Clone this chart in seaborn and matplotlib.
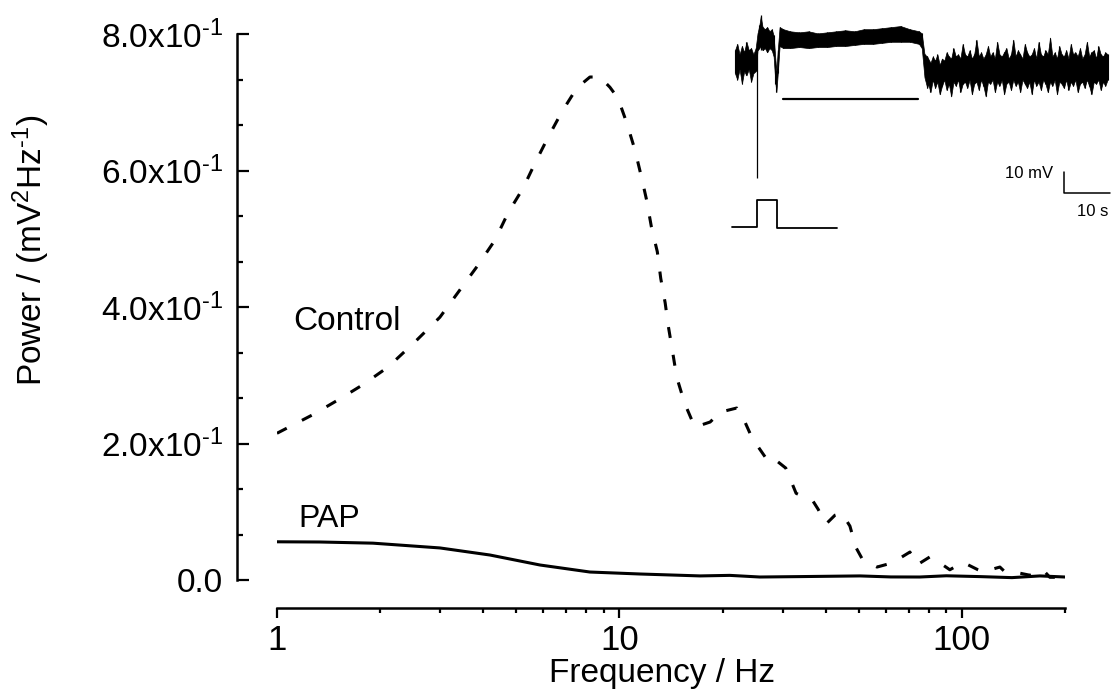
import numpy as np
import pandas as pd
import seaborn as sns
import matplotlib.pyplot as plt
from matplotlib import ticker

# Power spectra (frequency in Hz, power in mV^2/Hz)
control_freq = [1.0, 1.27, 1.51, 1.78, 2.11, 2.53, 2.99, 3.42, 3.86, 4.33, 4.73, 5.23,
                5.67, 6.18, 6.79, 7.51, 8.2, 8.77, 9.38, 9.9, 10.5, 11.1, 11.6, 12.0,
                12.4, 12.9, 13.2, 13.6, 13.9, 14.3, 14.7, 15.5, 16.6, 18.4, 19.7, 22.0,
                22.9, 24.4, 27.0, 27.9, 30.6, 32.8, 36.7, 38.0, 40.1, 42.6, 44.6, 47.1,
                49.0, 51.4, 56.5, 62.5, 65.9, 70.5, 73.9, 80.7, 86.3, 92.2, 100.7, 111.4,
                115.2, 129.1, 133.5, 147.7, 158.0, 172.4, 180.6, 200.0]
control_power = [0.215, 0.242, 0.264, 0.286, 0.312, 0.349, 0.385, 0.425, 0.461, 0.498, 0.538, 0.574,
                 0.611, 0.648, 0.686, 0.721, 0.737, 0.737, 0.722, 0.706, 0.670, 0.630, 0.590, 0.557,
                 0.517, 0.481, 0.442, 0.406, 0.371, 0.334, 0.297, 0.259, 0.224, 0.2315, 0.246, 0.252,
                 0.239, 0.208, 0.176, 0.180, 0.164, 0.127, 0.116, 0.104, 0.082, 0.095, 0.098, 0.079,
                 0.048, 0.029, 0.019, 0.025, 0.032, 0.041, 0.022, 0.034, 0.025, 0.015, 0.026, 0.015,
                 0.012, 0.019, 0.012, 0.010, 0.007, 0.015, 0.004, 0.004]

pap_freq = [1.0, 1.335, 1.906, 2.99, 4.19, 5.86, 8.2, 11.5, 17.2, 21.0, 25.7, 33.6,
            50.4, 62.0, 75.3, 90.0, 112.8, 140.0, 169.0, 200.0]
pap_power = [0.056, 0.0557, 0.054, 0.047, 0.0366, 0.022, 0.0117, 0.0088, 0.006, 0.0068, 0.0044, 0.005,
             0.006, 0.0045, 0.0044, 0.0062, 0.005, 0.0035, 0.006, 0.0044]

y_ticks = [0.0, 0.2, 0.4, 0.6, 0.8]
y_tick_labels = ['0.0', '2.0x10$^{\u20101}$', '4.0x10$^{\u20101}$', '6.0x10$^{\u20101}$', '8.0x10$^{\u20101}$']
x_ticks = [1, 10, 100]
x_tick_labels = ['1', '10', '100']

# Inset: membrane potential recording (time in s, potential in mV relative to rest)
trace_t = [0.0, 0.5, 1.0, 1.5, 2.0, 2.5, 3.0, 3.5, 4.0, 4.5,
           4.9, 5.3, 5.6, 6.0, 6.5, 7.0, 7.5, 8.0, 8.4, 8.8, 9.0, 9.3,
           9.7, 10.5, 12, 14, 16, 18, 20, 22, 24, 26, 28, 30, 32, 34, 36, 38, 40, 40.6,
           41.2, 41.8,
           42.0, 42.5, 43.0, 43.5, 44.0, 44.5, 45.0, 45.5, 46.0, 46.5,
           47.0, 47.5, 48.0, 48.5, 49.0, 49.5, 50.0, 50.5, 51.0, 51.5,
           52.0, 52.5, 53.0, 53.5, 54.0, 54.5, 55.0, 55.5, 56.0, 56.5,
           57.0, 57.5, 58.0, 58.5, 59.0, 59.5, 60.0, 60.5, 61.0, 61.5,
           62.0, 62.5, 63.0, 63.5, 64.0, 64.5, 65.0, 65.5, 66.0, 66.5,
           67.0, 67.5, 68.0, 68.5, 69.0, 69.5, 70.0, 70.5, 71.0, 71.5,
           72.0, 72.5, 73.0, 73.5, 74.0, 74.5, 75.0, 75.5, 76.0, 76.5,
           77.0, 77.5, 78.0, 78.5, 79.0, 79.5, 80.0, 80.5, 81.0]
trace_hi = [8, 11, 6, 10, 7, 12, 8, 9, 6, 9,
            16, 20, 24, 19, 18, 19, 17, 18, 15, 3, -2, 8,
            19, 18, 17, 16.5, 17, 16, 16.5, 17, 17.5, 17, 18, 18, 18.5, 19, 19.5, 18, 17, 16,
            6, 5,
            4, 2, 5, 3, 6, 1, 4, 3, 7, 5,
            4, 9, 5, 6, 4, 11, 6, 5, 8, 4,
            6, 13, 5, 7, 4, 6, 10, 5, 7, 4,
            12, 6, 5, 7, 9, 4, 6, 13, 5, 8,
            6, 4, 11, 7, 5, 6, 9, 4, 12, 6,
            5, 8, 6, 14, 5, 7, 4, 10, 6, 5,
            8, 4, 11, 6, 7, 5, 9, 4, 6, 12,
            5, 7, 8, 4, 10, 6, 5, 7, 6]
trace_lo = [-3, -6, -1, -8, -2, -4, -1, -7, -3, -2,
            8, 9, 10, 8, 9, 7, 9, 8, 5, -8, -12, -3,
            10, 9, 9, 9.5, 9, 9.5, 9.5, 10, 10, 10.5, 11, 11, 11.5, 12, 12, 12, 11, 9,
            -5, -10,
            -8, -12, -6, -10, -7, -13, -9, -6, -11, -8,
            -14, -7, -9, -6, -12, -8, -7, -10, -6, -13,
            -8, -7, -11, -6, -9, -14, -7, -8, -6, -12,
            -7, -9, -6, -13, -8, -7, -11, -6, -9, -7,
            -12, -6, -8, -10, -7, -13, -6, -9, -7, -11,
            -6, -8, -12, -7, -9, -6, -13, -7, -8, -10,
            -6, -11, -7, -9, -6, -12, -8, -7, -10, -6,
            -9, -13, -7, -8, -6, -11, -7, -9, -6]
stim_t = [-0.65, 4.78, 4.78, 9.13, 9.13, 22.2]
stim_level = [-76.2, -76.2, -63.3, -63.3, -76.6, -76.6]
drug_bar_t = [10.4, 39.8]
drug_bar_level = -15.4

sns.set_theme(style='ticks', rc={'axes.edgecolor': 'black', 'xtick.color': 'black',
                                 'ytick.color': 'black', 'text.color': 'black',
                                 'axes.labelcolor': 'black'})
plt.rcParams['font.family'] = ['Liberation Sans', 'DejaVu Sans']
plt.rcParams['mathtext.fontset'] = 'custom'
plt.rcParams['mathtext.rm'] = 'Liberation Sans'
plt.rcParams['mathtext.it'] = 'Liberation Sans:italic'

fig = plt.figure(figsize=(11.11, 6.9), dpi=100)
ax = fig.add_axes([0.2493, 0.1594, 0.7093, 0.7913])

ctrl = pd.DataFrame({'freq': control_freq, 'power': control_power})
pap = pd.DataFrame({'freq': pap_freq, 'power': pap_power})
sns.lineplot(data=ctrl, x='freq', y='power', ax=ax, color='black', lw=2.2,
             linestyle=(0, (3.6, 5.6)), estimator=None, sort=False)
sns.lineplot(data=pap, x='freq', y='power', ax=ax, color='black', lw=2.2,
             estimator=None, sort=False)

ax.set_xscale('log')
ax.set_xlim(1, 200)
ax.set_ylim(0, 0.8)
for s in ['top', 'right']:
    ax.spines[s].set_visible(False)
ax.spines['left'].set_position(('outward', 28.8))
ax.spines['bottom'].set_position(('outward', 20.2))
ax.spines['left'].set_linewidth(1.8)
ax.spines['bottom'].set_linewidth(1.8)

ax.yaxis.set_major_locator(ticker.FixedLocator(y_ticks))
ax.yaxis.set_major_formatter(ticker.FixedFormatter(y_tick_labels))
ax.yaxis.set_minor_locator(ticker.AutoMinorLocator(3))
ax.xaxis.set_major_locator(ticker.FixedLocator(x_ticks))
ax.xaxis.set_major_formatter(ticker.FixedFormatter(x_tick_labels))
ax.xaxis.set_minor_locator(ticker.LogLocator(base=10, subs=np.arange(2, 10)))
ax.xaxis.set_minor_formatter(ticker.NullFormatter())

ax.tick_params(axis='y', which='major', direction='in', length=8.6, width=1.6, labelsize=24, pad=10)
ax.tick_params(axis='y', which='minor', direction='in', length=4.3, width=1.6)
ax.tick_params(axis='x', which='major', direction='out', length=7.2, width=1.6, labelsize=25, pad=4)
ax.tick_params(axis='x', which='minor', direction='out', length=3.6, width=1.6)

ax.set_xlabel('Frequency / Hz', fontsize=24, va='baseline')
ax.xaxis.set_label_coords(0.489, -0.187)
ax.set_ylabel('Power / (mV$^2$Hz$^{\u20101}$)', fontsize=24, va='center')
ax.yaxis.set_label_coords(-0.312, 0.604)

ax.text(1.114, 0.366, 'Control', fontsize=24, ha='left', va='baseline')
ax.text(1.152, 0.078, 'PAP', fontsize=23, ha='left', va='baseline')

# inset recording
axi = fig.add_axes([725 / 1111, 1 - 240 / 690, 386 / 1111, 240 / 690])
axi.set_xlim(-2.17, 81.74)
axi.set_ylim(-82.38, 31.9)
axi.axis('off')
axi.fill_between(trace_t, trace_lo, trace_hi, color='black', lw=0.5)
axi.vlines(trace_t, trace_lo, trace_hi, color='black', lw=0.8)
axi.vlines(4.85, -52.9, 9, color='black', lw=0.9)
axi.vlines(5.6, 8, 24.8, color='black', lw=0.9)
axi.plot(stim_t, stim_level, color='black', lw=1.3)
axi.plot(drug_bar_t, [drug_bar_level] * 2, color='black', lw=1.6)
axi.plot([71.5, 71.5, 81.5], [-50, -60, -60], color='black', lw=1.1)
axi.text(69.1, -50.5, '10 mV', fontsize=12, ha='right', va='center')
axi.text(77.7, -69, '10 s', fontsize=12, ha='center', va='center')

fig.savefig('out.png', dpi=100)
